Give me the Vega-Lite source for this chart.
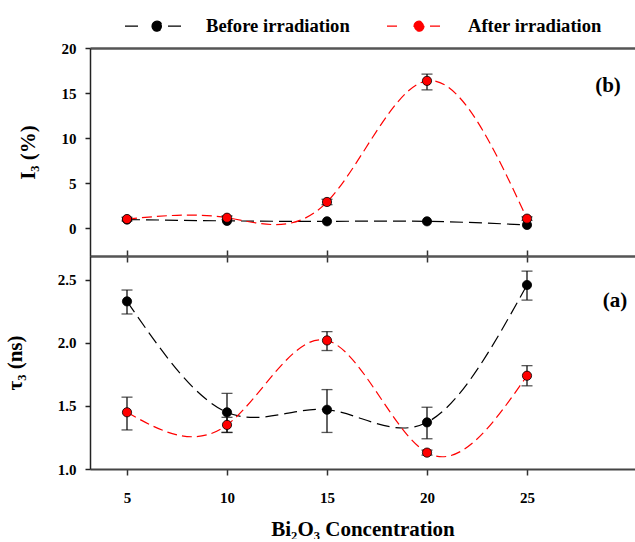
{
  "$schema": "https://vega.github.io/schema/vega-lite/v6.json",
  "padding": {"left": 4, "top": 15, "right": 0, "bottom": 0},
  "background": "white",
  "bounds": "flush",
  "config": {
    "view": {"stroke": null},
    "concat": {"spacing": 0},
    "font": "'Liberation Serif', 'Times New Roman', Times, serif",
    "axis": {
      "grid": false,
      "labelFont": "'Liberation Serif', 'Times New Roman', Times, serif", "labelFontWeight": "bold", "labelFontSize": 15, "labelColor": "black",
      "titleFont": "'Liberation Serif', 'Times New Roman', Times, serif", "titleFontWeight": "bold", "titleFontSize": 21, "titleColor": "black",
      "domainColor": "#222", "domainWidth": 1.5, "tickColor": "#222", "tickWidth": 1.5
    }
  },
  "datasets": {
    "main": [
      {"panel": "I", "series": "Before irradiation", "conc": 5, "value": 0.95},
      {"panel": "I", "series": "Before irradiation", "conc": 10, "value": 0.8},
      {"panel": "I", "series": "Before irradiation", "conc": 15, "value": 0.75},
      {"panel": "I", "series": "Before irradiation", "conc": 20, "value": 0.75},
      {"panel": "I", "series": "Before irradiation", "conc": 25, "value": 0.35},
      {"panel": "I", "series": "After irradiation", "conc": 5, "value": 1.0, "lo": 0.8, "hi": 1.2},
      {"panel": "I", "series": "After irradiation", "conc": 10, "value": 1.15, "lo": 0.95, "hi": 1.35},
      {"panel": "I", "series": "After irradiation", "conc": 15, "value": 2.9, "lo": 2.6, "hi": 3.2},
      {"panel": "I", "series": "After irradiation", "conc": 20, "value": 16.35, "lo": 15.35, "hi": 17.1},
      {"panel": "I", "series": "After irradiation", "conc": 25, "value": 1.05, "lo": 0.85, "hi": 1.25},
      {"panel": "T", "series": "Before irradiation", "conc": 5, "value": 2.33, "lo": 2.23, "hi": 2.42},
      {"panel": "T", "series": "Before irradiation", "conc": 10, "value": 1.45, "lo": 1.29, "hi": 1.6},
      {"panel": "T", "series": "Before irradiation", "conc": 15, "value": 1.47, "lo": 1.29, "hi": 1.63},
      {"panel": "T", "series": "Before irradiation", "conc": 20, "value": 1.37, "lo": 1.24, "hi": 1.49},
      {"panel": "T", "series": "Before irradiation", "conc": 25, "value": 2.46, "lo": 2.34, "hi": 2.57},
      {"panel": "T", "series": "After irradiation", "conc": 5, "value": 1.45, "lo": 1.31, "hi": 1.57},
      {"panel": "T", "series": "After irradiation", "conc": 10, "value": 1.35, "lo": 1.29, "hi": 1.41},
      {"panel": "T", "series": "After irradiation", "conc": 15, "value": 2.02, "lo": 1.94, "hi": 2.09},
      {"panel": "T", "series": "After irradiation", "conc": 20, "value": 1.13, "lo": 1.11, "hi": 1.15},
      {"panel": "T", "series": "After irradiation", "conc": 25, "value": 1.74, "lo": 1.66, "hi": 1.82}
    ],
    "labels": [
      {"panel": "I", "conc": 29.05, "value": 15.8, "label": "(b)"},
      {"panel": "T", "conc": 29.4, "value": 2.33, "label": "(a)"}
    ]
  },
  "resolve": {"scale": {"color": "shared"}},
  "vconcat": [
    {
      "width": 545, "height": 208,
      "resolve": {"axis": {"x": "independent"}},
      "layer": [
        {
          "data": {"name": "main"},
          "transform": [{"filter": "datum.panel === 'I'"}],
          "mark": {"type": "line", "interpolate": "natural", "strokeWidth": 1.2},
          "encoding": {
            "x": {"field": "conc", "type": "quantitative", "scale": {"domain": [3.15, 30.4], "nice": false, "zero": false},
                  "axis": {"orient": "bottom", "labels": false, "title": null, "values": [5, 10, 15, 20, 25], "tickSize": 6, "domainColor": "#555", "domainWidth": 2, "tickColor": "#333"}},
            "y": {"field": "value", "type": "quantitative", "scale": {"domain": [-3.1, 20], "nice": false, "zero": false},
                  "axis": {"values": [0, 5, 10, 15, 20], "title": "I₃ (%)", "titleX": -52, "tickSize": 5, "labelPadding": 9}},
            "color": {"field": "series", "type": "nominal",
                      "scale": {"domain": ["Before irradiation", "After irradiation"], "range": ["#000000", "#ff0000"]},
                      "legend": {"orient": "none", "legendX": 56, "legendY": -33, "direction": "horizontal", "title": null,
                                 "symbolType": "M-3.2,0H-1.7M1.1,0H2.6M-0.5,0A0.5,0.5,0,1,1,0.5,0A0.5,0.5,0,1,1,-0.5,0Z",
                                 "symbolSize": 400, "symbolStrokeWidth": 1.2, "labelOffset": 38, "columnPadding": 34,
                                 "labelFont": "'Liberation Serif', 'Times New Roman', Times, serif", "labelFontWeight": "bold", "labelFontSize": 18.6, "labelColor": "black",
                                 "labelLimit": 300,
                                 "encode": {"symbols": {"update": {"fill": {"scale": "color", "field": "value"}, "stroke": {"scale": "color", "field": "value"}, "opacity": {"value": 1}}}}}},
            "strokeDash": {"field": "series", "type": "nominal",
                           "scale": {"domain": ["Before irradiation", "After irradiation"], "range": [[13, 6], [10, 5]]}, "legend": null}
          }
        },
        {
          "data": {"name": "main"},
          "transform": [{"filter": "datum.panel === 'I' && datum.lo != null"}],
          "mark": {"type": "errorbar", "ticks": {"size": 11}, "color": "#111", "thickness": 1.3},
          "encoding": {
            "x": {"field": "conc", "type": "quantitative", "axis": null},
            "y": {"field": "lo", "type": "quantitative", "title": "I₃ (%)"},
            "y2": {"field": "hi"}
          }
        },
        {
          "data": {"name": "main"},
          "transform": [{"filter": "datum.panel === 'I'"}],
          "mark": {"type": "circle", "size": 85, "stroke": "black", "strokeWidth": 0.8, "opacity": 1},
          "encoding": {
            "x": {"field": "conc", "type": "quantitative",
                  "axis": {"orient": "top", "labels": false, "ticks": false, "title": null, "domainColor": "#555", "domainWidth": 2.5}},
            "y": {"field": "value", "type": "quantitative", "title": "I₃ (%)"},
            "fill": {"field": "series", "type": "nominal",
                     "scale": {"domain": ["Before irradiation", "After irradiation"], "range": ["#000000", "#ff0000"]}, "legend": null}
          }
        },
        {
          "data": {"name": "labels"},
          "transform": [{"filter": "datum.panel === 'I'"}],
          "mark": {"type": "text", "font": "'Liberation Serif', 'Times New Roman', Times, serif", "fontWeight": "bold", "fontSize": 21, "color": "black"},
          "encoding": {
            "x": {"field": "conc", "type": "quantitative", "axis": null},
            "y": {"field": "value", "type": "quantitative", "title": "I₃ (%)"},
            "text": {"field": "label"}
          }
        }
      ]
    },
    {
      "width": 545, "height": 213,
      "resolve": {"axis": {"x": "independent"}},
      "layer": [
        {
          "data": {"name": "main"},
          "transform": [{"filter": "datum.panel === 'T'"}],
          "mark": {"type": "line", "interpolate": "natural", "strokeWidth": 1.2},
          "encoding": {
            "x": {"field": "conc", "type": "quantitative", "scale": {"domain": [3.15, 30.4], "nice": false, "zero": false},
                  "axis": {"orient": "bottom", "title": "Bi₂O₃ Concentration", "values": [5, 10, 15, 20, 25], "tickSize": 6, "labelPadding": 15, "titlePadding": 13, "domainColor": "#444", "domainWidth": 2, "tickColor": "#333"}},
            "y": {"field": "value", "type": "quantitative", "scale": {"domain": [1.0, 2.69], "nice": false, "zero": false},
                  "axis": {"values": [1.0, 1.5, 2.0, 2.5], "format": ".1f", "title": "τ₃ (ns)", "titleX": -65, "tickSize": 5, "labelPadding": 9}},
            "color": {"field": "series", "type": "nominal",
                      "scale": {"domain": ["Before irradiation", "After irradiation"], "range": ["#000000", "#ff0000"]}, "legend": null},
            "strokeDash": {"field": "series", "type": "nominal",
                           "scale": {"domain": ["Before irradiation", "After irradiation"], "range": [[13, 6], [10, 5]]}, "legend": null}
          }
        },
        {
          "data": {"name": "main"},
          "transform": [{"filter": "datum.panel === 'T' && datum.lo != null"}],
          "mark": {"type": "errorbar", "ticks": {"size": 11}, "color": "#111", "thickness": 1.3},
          "encoding": {
            "x": {"field": "conc", "type": "quantitative", "axis": null},
            "y": {"field": "lo", "type": "quantitative", "title": "τ₃ (ns)"},
            "y2": {"field": "hi"}
          }
        },
        {
          "data": {"name": "main"},
          "transform": [{"filter": "datum.panel === 'T'"}],
          "mark": {"type": "circle", "size": 85, "stroke": "black", "strokeWidth": 0.8, "opacity": 1},
          "encoding": {
            "x": {"field": "conc", "type": "quantitative",
                  "axis": {"orient": "top", "labels": false, "title": null, "values": [5, 10, 15, 20, 25], "tickSize": 6, "domainColor": "#555", "domainWidth": 2, "tickColor": "#333"}},
            "y": {"field": "value", "type": "quantitative", "title": "τ₃ (ns)"},
            "fill": {"field": "series", "type": "nominal",
                     "scale": {"domain": ["Before irradiation", "After irradiation"], "range": ["#000000", "#ff0000"]}, "legend": null}
          }
        },
        {
          "data": {"name": "labels"},
          "transform": [{"filter": "datum.panel === 'T'"}],
          "mark": {"type": "text", "font": "'Liberation Serif', 'Times New Roman', Times, serif", "fontWeight": "bold", "fontSize": 21, "color": "black"},
          "encoding": {
            "x": {"field": "conc", "type": "quantitative", "axis": null},
            "y": {"field": "value", "type": "quantitative", "title": "τ₃ (ns)"},
            "text": {"field": "label"}
          }
        }
      ]
    }
  ]
}
